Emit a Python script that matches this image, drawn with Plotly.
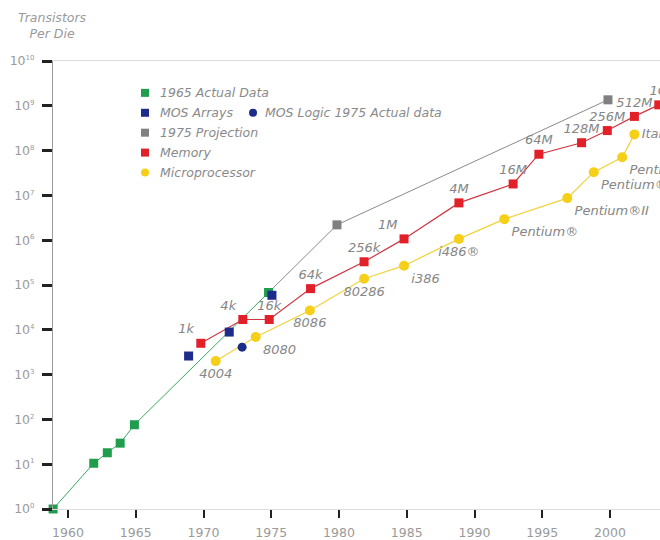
import plotly.graph_objects as go

# ---------------- data ----------------
green_years = [1958.9, 1961.9, 1962.9, 1963.85, 1964.9, 1974.8]
green_counts = [1, 10.5, 18, 29.5, 76, 68000]

mos_array_years = [1968.9, 1971.9, 1975.05]
mos_array_counts = [2600, 8900, 59000]

mos_logic_years = [1972.85]
mos_logic_counts = [4100]

projection_years = [1974.8, 1979.85, 1999.85]
projection_counts = [68000, 2.2e6, 1.36e9]

memory_years = [1969.8, 1972.9, 1974.85, 1977.9, 1981.85, 1984.8, 1988.85,
                1992.85, 1994.75, 1997.9, 1999.8, 2001.8, 2003.6]
memory_counts = [5000, 17000, 17000, 83000, 330000, 1.07e6, 6.8e6,
                 1.8e7, 8.3e7, 1.5e8, 2.8e8, 5.8e8, 1.05e9]
memory_labels = ["1k", "4k", "16k", "64k", "256k", "1M", "4M",
                 "16M", "64M", "128M", "256M", "512M", "1G"]

micro_years = [1970.9, 1973.85, 1977.85, 1981.85, 1984.8, 1988.85,
               1992.2, 1996.85, 1998.8, 2000.9, 2001.8]
micro_counts = [2000, 6900, 27000, 138000, 270000, 1.07e6,
                2.95e6, 8.7e6, 3.3e7, 7.1e7, 2.3e8]
micro_labels = ["4004", "8080", "8086", "80286", "i386", "i486®",
                "Pentium®", "Pentium®II", "Pentium®III", "Pentium® 4", "Itanium"]

x_tick_years = [1960, 1965, 1970, 1975, 1980, 1985, 1990, 1995, 2000, 2005]
y_exponents = list(range(11))

legend_names = ["1965 Actual Data", "MOS Arrays", "MOS Logic 1975 Actual data",
                "1975 Projection", "Memory", "Microprocessor"]

# ---------------- styles ----------------
GREEN = "#1f9d4c"
BLUE = "#1d2b8a"
GRAY = "#808080"
RED = "#e2202a"
YELLOW = "#f6cf18"
LABEL = "#868686"
FONT = "DejaVu Sans"

y_tick_values = [10 ** k for k in y_exponents]
y_tick_labels = ["10<sup><span style='font-size:7px'>%d</span></sup>" % k
                 for k in y_exponents]

memory_pos = ["top left", "top left", "top center", "top center", "top center",
              "top left", "top center", "top center", "top center", "top center",
              "top center", "top center", "top center"]
micro_pos = ["bottom center", "bottom right", "bottom center", "bottom center",
             "bottom right", "bottom center", "bottom right", "bottom right",
             "bottom right", "bottom right", "middle right"]

label_font = dict(family=FONT, size=13, color=LABEL, style="italic")

fig = go.Figure()

fig.add_trace(go.Scatter(
    x=projection_years, y=projection_counts, mode="lines",
    line=dict(color="#8a8a8a", width=1), showlegend=False, hoverinfo="skip"))
fig.add_trace(go.Scatter(
    x=projection_years[1:], y=projection_counts[1:], mode="markers",
    marker=dict(symbol="square", size=9, color=GRAY), showlegend=False))

fig.add_trace(go.Scatter(
    x=green_years, y=green_counts, mode="lines+markers", cliponaxis=False,
    line=dict(color="#3aa862", width=1),
    marker=dict(symbol="square", size=9, color=GREEN), showlegend=False))

fig.add_trace(go.Scatter(
    x=memory_years, y=memory_counts, mode="lines+markers+text",
    text=memory_labels, textposition=memory_pos, textfont=label_font,
    line=dict(color="#cf3742", width=1.2),
    marker=dict(symbol="square", size=9, color=RED), showlegend=False))

fig.add_trace(go.Scatter(
    x=micro_years, y=micro_counts, mode="lines+markers+text",
    text=micro_labels, textposition=micro_pos, textfont=label_font,
    line=dict(color="#f1d23c", width=1.2),
    marker=dict(symbol="circle", size=10, color=YELLOW), showlegend=False))

fig.add_trace(go.Scatter(
    x=mos_array_years, y=mos_array_counts, mode="markers",
    marker=dict(symbol="square", size=9, color=BLUE), showlegend=False))
fig.add_trace(go.Scatter(
    x=mos_logic_years, y=mos_logic_counts, mode="markers",
    marker=dict(symbol="circle", size=9, color=BLUE), showlegend=False))

# ---------------- layout ----------------
L, T, PW, PH = 53, 61, 607, 450


def px(xp):
    return (xp - L) / PW


def py(yp):
    return (T + PH - yp) / PH


shapes = []
annotations = []
legend_items = [
    (legend_names[0], GREEN, "rect", 145, 93, 158),
    (legend_names[1], BLUE, "rect", 145, 113, 158),
    (legend_names[2], BLUE, "circle", 253, 113, 263),
    (legend_names[3], GRAY, "rect", 145, 133, 158),
    (legend_names[4], RED, "rect", 145, 153, 158),
    (legend_names[5], YELLOW, "circle", 145, 173, 158),
]
for name, col, kind, mx, my, tx in legend_items:
    shapes.append(dict(type=kind, xref="paper", yref="paper",
                       xsizemode="pixel", ysizemode="pixel",
                       xanchor=px(mx), yanchor=py(my),
                       x0=-4, x1=4, y0=-4, y1=4,
                       fillcolor=col, line=dict(width=0)))
    annotations.append(dict(text=name, xref="paper", yref="paper",
                            x=px(tx), y=py(my), xanchor="left", yanchor="middle",
                            showarrow=False,
                            font=dict(family=FONT, size=12.5, color="#8a8a8a",
                                      style="italic")))

annotations.append(dict(text="Transistors<br>Per Die", xref="paper", yref="paper",
                        x=px(52), y=py(25), xanchor="center", yanchor="middle",
                        showarrow=False, align="center",
                        font=dict(family=FONT, size=12.5, color="#9a9a9a",
                                  style="italic")))

fig.update_layout(
    width=660, height=540,
    margin=dict(l=L, r=0, t=T, b=540 - T - PH),
    plot_bgcolor="white", paper_bgcolor="white",
    showlegend=False,
    font=dict(family=FONT, size=12.5, color="#999999"),
    shapes=shapes, annotations=annotations,
)
fig.update_xaxes(
    range=[1960 - (68 - L) / 13.55, 1960 + (660 - 68) / 13.55],
    tickvals=x_tick_years, ticks="outside", ticklen=8, tickwidth=2,
    tickcolor="#222222", showline=True, linecolor="#dddddd", linewidth=1,
    mirror=True, showgrid=False, zeroline=False, ticklabelstandoff=4,
    tickfont=dict(family=FONT, size=12.5, color="#9a9a9a"))
fig.update_yaxes(
    type="log", range=[0, 10], tickvals=y_tick_values, ticktext=y_tick_labels,
    ticks="outside", ticklen=10, tickwidth=3, tickcolor="#222222",
    showline=True, linecolor="#9a9a9a", linewidth=1, showgrid=False,
    zeroline=False, ticklabelstandoff=5,
    tickfont=dict(family=FONT, size=12.5, color="#9a9a9a"))

fig.write_html("out.html",
               config={"displayModeBar": False},
               post_script="document.body.style.margin='0';"
                           "document.body.style.overflow='hidden';")
